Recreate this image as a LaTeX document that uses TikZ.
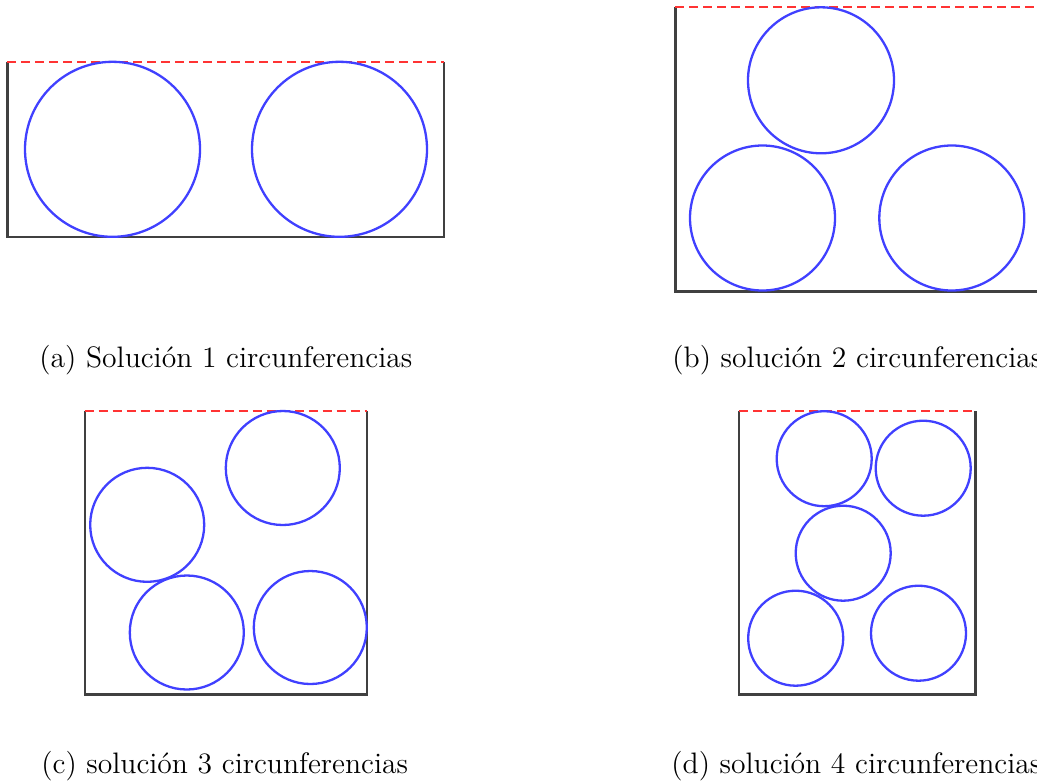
\documentclass[tikz,border=0pt]{standalone}
\usepackage{fontspec}
\begin{document}
\begin{tikzpicture}[x=0.5pt,y=-0.5pt,
  frame/.style={draw=black!75,line width=1.2pt},
  topline/.style={draw=red!80,line width=1.1pt,dash pattern=on 4.5pt off 2.5pt},
  circ/.style={draw=blue!75,line width=1.15pt},
  captext/.style={anchor=base west,inner sep=0pt,font=\fontsize{14.8}{18}\selectfont}]
\useasboundingbox (0,0) rectangle (1037,782);
% (a)
\draw[frame] (7.3,62) -- (7.3,236.7) -- (444,236.7) -- (444,62);
\draw[topline] (7.3,62) -- (444,62);
\draw[circ] (112.5,149.3) circle (87.5);
\draw[circ] (339.5,149.3) circle (87.5);
\node[captext] (capa) at (39,367) {(a) Solución 1 circunferencias};
% (b)
\draw[frame] (675.3,7.3) -- (675.3,291.3) -- (1040,291.3);
\draw[topline] (675.3,7.3) -- (1040,7.3);
\draw[circ] (821,80.3) circle (73);
\draw[circ] (762.5,218) circle (72.5);
\draw[circ] (951.8,218) circle (72.5);
\node[captext] (capb) at (672,367) {(b) solución 2 circunferencias};
% (c)
\draw[frame] (84.7,410.7) -- (84.7,694.5) -- (366.7,694.5) -- (366.7,410.7);
\draw[topline] (84.7,410.7) -- (366.7,410.7);
\draw[circ] (282.8,468) circle (57);
\draw[circ] (147.2,524.8) circle (57);
\draw[circ] (186.8,632.5) circle (57);
\draw[circ] (310.3,627.5) circle (56.5);
\node[captext] (capc) at (41,773) {(c) solución 3 circunferencias};
% (d)
\draw[frame] (739,410.7) -- (739,694.5) -- (975.3,694.5) -- (975.3,410.7);
\draw[topline] (739,410.7) -- (975.3,410.7);
\draw[circ] (824.2,458.7) circle (47.5);
\draw[circ] (923.2,468.2) circle (47.5);
\draw[circ] (843.2,553.2) circle (47.5);
\draw[circ] (795.7,638.2) circle (47.5);
\draw[circ] (918.5,633.2) circle (47.5);
\node[captext] (capd) at (671,773) {(d) solución 4 circunferencias};
\end{tikzpicture}
\end{document}
